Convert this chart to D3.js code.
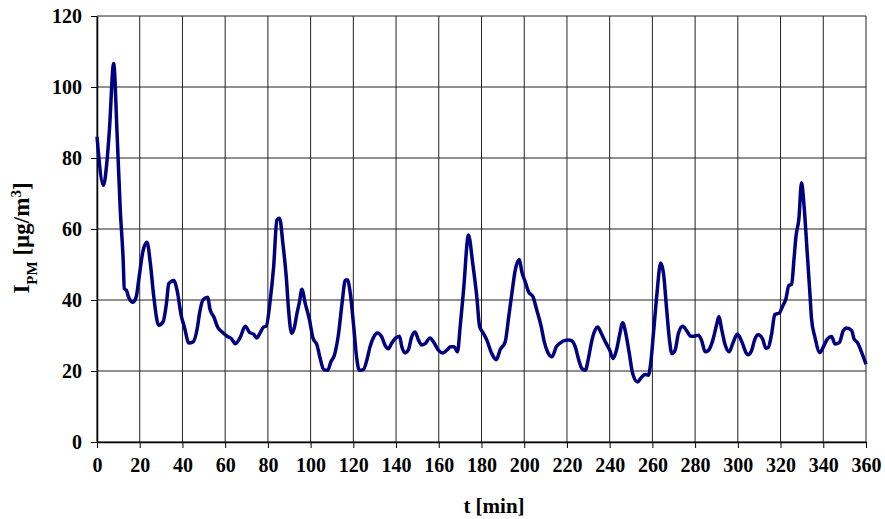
<!DOCTYPE html>
<html>
<head>
<meta charset="utf-8">
<script src="https://cdn.jsdelivr.net/npm/d3@7"></script>
<style>
  body { margin: 0; background: #fff; }
  text { font-family: "Liberation Serif", "Times New Roman", serif; font-weight: bold; }
</style>
</head>
<body>
<script>
// time [min] and PM intensity [µg/m3]
const tMin = [0, 3, 4.7, 5.8, 7.8, 9.4, 10.9, 12.2, 12.8, 13.8, 14.8, 16.9, 18.4, 19.5, 21.6, 23.4, 25, 26.6, 28.9, 30.9,
  32.5, 33.6, 35.9, 37.5, 39.4, 40.9, 43, 45, 46.9, 48.1, 49.7, 51.9, 52.8, 54.7, 56.6, 58.6, 60.9, 62.9, 64.8, 67,
  69.4, 71.5, 73.3, 74.8, 76.6, 78, 79.2, 81.1, 82.7, 84.2, 85.5, 87, 88.6, 89.7, 91.1, 92.3, 93.6, 94.8, 95.9, 97.5,
  99.5, 101.1, 103, 104.5, 106.1, 108, 109.5, 111.1, 113.1, 114.7, 116.3, 117.3, 118.6, 120.2, 121.5, 122.8, 124.7, 126.3, 127.8, 129.4,
  131.25, 133.3, 134.8, 136.4, 138, 140, 141.6, 142.7, 144.2, 145.8, 147.3, 148.9, 150.5, 152, 153.6, 155.9, 157.5, 159.8, 161.9, 163.75,
  165.6, 167.2, 168.75, 170, 171.6, 173.9, 175.9, 177.8, 179.1, 181, 182.5, 184.8, 186.9, 188.75, 191.1, 192.7, 194.2, 195.8, 197.7, 198.9,
  200.5, 202, 204.1, 205.9, 207.8, 209.4, 210.9, 213, 215, 216.9, 218.4, 220.8, 222.3, 223.9, 225.5, 227, 228.6, 230.2, 231.7, 233.3,
  234.4, 236, 238, 240, 241.6, 243.2, 244.6, 246.1, 247.7, 249.2, 250.8, 253, 255, 256.6, 258.1, 259.2, 260.5, 262, 263.9, 265.2,
  266.7, 268, 269.1, 270.6, 272.2, 274.2, 276.1, 278, 279.5, 281.6, 283.1, 284.7, 286.25, 288.3, 290.2, 291.1, 292.5, 294.1, 295.9, 297.7,
  299.8, 301.9, 303.9, 304.8, 306.4, 308, 309.5, 311.6, 313.1, 314.2, 315.8, 317.3, 319.4, 320.9, 322.5, 323.9, 325.2, 326.25, 327.2, 328.6,
  329.8, 330.9, 332.5, 333.75, 334.5, 336.1, 338.4, 340.3, 341.9, 343.9, 345.5, 347.5, 349.4, 350.9, 353.3, 354.4, 356, 358, 360];
const iPM = [86, 72.3, 79.3, 87.8, 106.6, 86.9, 65.3, 52, 43.2, 42.7, 40.8, 39.4, 41, 45.5, 54, 56.3, 50.2, 40.8, 32.9, 33.8,
  39, 44.6, 45.5, 42.7, 35.7, 32.4, 27.9, 28.2, 31.9, 36.6, 40.1, 40.8, 37.6, 35.2, 32.2, 31, 29.8, 29.1, 27.7, 29.4,
  32.6, 30.8, 30.4, 29.3, 31, 32.4, 32.6, 40, 49.4, 62.5, 63, 56, 46.5, 37.1, 30.6, 32, 36.2, 39.5, 43, 39,
  34.3, 29.3, 27.3, 23.5, 20.4, 20.2, 22.6, 24.4, 30.6, 39, 45.6, 45.6, 41.8, 32.4, 24, 20.2, 20.4, 23, 26.8, 29.4,
  30.7, 29.6, 27.3, 26.3, 27.9, 29.4, 29.8, 26.8, 25.1, 26, 29.6, 31, 28.7, 27.3, 27.7, 29.3, 28.2, 25.9, 25.1, 25.9,
  26.8, 26.8, 25.4, 32.4, 42.8, 58.3, 50.3, 40.9, 32.6, 30.5, 28.7, 24.9, 23.2, 26, 28.2, 35.1, 41.8, 48.4, 51.4, 47.9,
  45.1, 42.3, 40.9, 37.1, 32.9, 28.2, 25.4, 24, 26.8, 27.9, 28.5, 28.7, 28.5, 26.8, 23.2, 20.7, 20.2, 24, 28.7, 31.7,
  32.4, 30.7, 28.2, 25.9, 23.5, 25.9, 30, 33.6, 30.1, 24.9, 19.2, 16.9, 18.3, 19, 18.8, 22.1, 30.6, 40.9, 50.4, 47.5,
  37.2, 28.7, 24.9, 25.8, 30.6, 32.6, 31.3, 29.8, 29.8, 30.1, 28.5, 25.4, 25.8, 28.7, 33.4, 35.3, 31.5, 27.3, 25.4, 27.9,
  30.4, 28.2, 25.1, 24.6, 25.7, 29, 30.2, 29, 26.4, 26.6, 30.4, 35.9, 36.3, 38.2, 40.3, 44.1, 44.4, 51.2, 57.8, 63,
  73, 67.3, 53.1, 41.8, 34.7, 29.5, 25.2, 27.1, 29, 29.7, 27.6, 28, 31.4, 32.1, 31.4, 29, 28, 25.2, 21.9];

const xTicks = d3.range(0, 361, 20);
const yTicks = d3.range(0, 121, 20);

const W = 885, H = 519;
const margin = { top: 16, right: 19, bottom: 77, left: 97 };
const width = W - margin.left - margin.right,
      height = H - margin.top - margin.bottom;

const svg = d3.select("body").append("svg")
    .attr("width", W)
    .attr("height", H);

const g = svg.append("g")
    .attr("transform", `translate(${margin.left},${margin.top})`);

const x = d3.scaleLinear().domain([0, 360]).range([0, width]);
const y = d3.scaleLinear().domain([0, 120]).range([height, 0]);

// grid
g.append("g")
    .selectAll("line")
    .data(yTicks)
    .join("line")
    .attr("x1", 0).attr("x2", width)
    .attr("y1", d => y(d)).attr("y2", d => y(d))
    .attr("stroke", "#222").attr("stroke-width", 1);

g.append("g")
    .selectAll("line")
    .data(xTicks)
    .join("line")
    .attr("x1", d => x(d)).attr("x2", d => x(d))
    .attr("y1", 0).attr("y2", height)
    .attr("stroke", "#222").attr("stroke-width", 1);

// axes
const xAxis = g.append("g")
    .attr("transform", `translate(0,${height})`)
    .call(d3.axisBottom(x).tickValues(xTicks).tickSize(6).tickPadding(10).tickSizeOuter(0));
const yAxis = g.append("g")
    .call(d3.axisLeft(y).tickValues(yTicks).tickSize(6).tickPadding(9).tickSizeOuter(0));

[xAxis, yAxis].forEach(a => {
    a.select(".domain").attr("stroke", "#000").attr("stroke-width", 1.5);
    a.selectAll(".tick line").attr("stroke", "#000");
    a.selectAll(".tick text")
        .attr("fill", "#000")
        .style("font-size", "20px")
        .style("font-family", "'Liberation Serif', serif")
        .style("font-weight", "bold");
});

// data line
const line = d3.line()
    .x((d, i) => x(tMin[i]))
    .y(d => y(d))
    .curve(d3.curveMonotoneX);

g.append("path")
    .datum(iPM)
    .attr("fill", "none")
    .attr("stroke", "#000080")
    .attr("stroke-width", 3.5)
    .attr("stroke-linejoin", "round")
    .attr("d", line);

// axis titles
svg.append("text")
    .attr("x", 494)
    .attr("y", 513)
    .attr("text-anchor", "middle")
    .style("font-size", "21px")
    .text("t [min]");

const yt = svg.append("text")
    .attr("transform", `translate(29,238) rotate(-90)`)
    .attr("text-anchor", "middle")
    .style("font-size", "23px");
yt.append("tspan").text("I");
yt.append("tspan").attr("baseline-shift", "sub").style("font-size", "15px").text("PM");
yt.append("tspan").text(" [µg/m");
yt.append("tspan").attr("baseline-shift", "super").style("font-size", "15px").text("3");
yt.append("tspan").text("]");
</script>
</body>
</html>
